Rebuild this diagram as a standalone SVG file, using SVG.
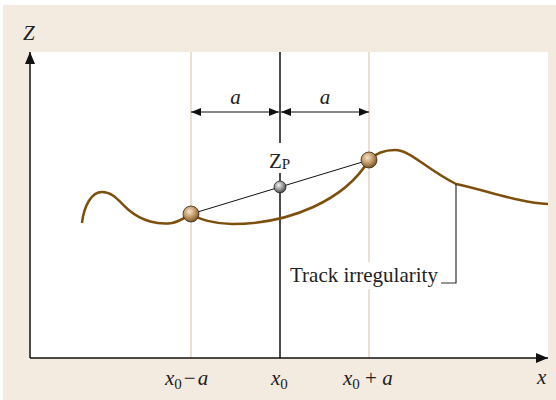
<svg xmlns="http://www.w3.org/2000/svg" width="556" height="400" viewBox="0 0 556 400">
<style>
.t{font-family:"Liberation Serif","Times New Roman",serif;font-size:21px;fill:#222}
.i{font-style:italic}
.s{font-size:15px}
.guide{stroke:#e6d6c4;stroke-width:1.5}
.ax{stroke:#111;stroke-width:1.5;fill:none}
</style>
<defs>
<radialGradient id="gb" cx="0.4" cy="0.35" r="0.7">
<stop offset="0" stop-color="#f3e4cc"/>
<stop offset="0.5" stop-color="#c49a66"/>
<stop offset="1" stop-color="#6e4a20"/>
</radialGradient>
<radialGradient id="gg" cx="0.4" cy="0.35" r="0.7">
<stop offset="0" stop-color="#f2f2f2"/>
<stop offset="0.5" stop-color="#9a9a9a"/>
<stop offset="1" stop-color="#3c3c3c"/>
</radialGradient>
<marker id="ah" viewBox="0 0 10 8" refX="10" refY="4" markerWidth="10" markerHeight="8" markerUnits="userSpaceOnUse" orient="auto-start-reverse">
<path d="M0,0 L10,4 L0,8 Z" fill="#111"/>
</marker>
<marker id="axh" viewBox="0 0 12 10" refX="12" refY="5" markerWidth="12" markerHeight="10" markerUnits="userSpaceOnUse" orient="auto">
<path d="M0,0 L12,5 L0,10 Z" fill="#111"/>
</marker>
</defs>
<rect x="3" y="5" width="553" height="395" fill="#f3ebdf"/>
<rect x="30" y="52" width="518" height="306" fill="#fff"/>

<g id="guides">
<line class="guide" x1="191" y1="52" x2="191" y2="358"/>
<line class="guide" x1="369" y1="52" x2="369" y2="262"/>
<line class="guide" x1="369" y1="289" x2="369" y2="358"/>
</g>

<g id="axes">
<line class="ax" x1="30" y1="358" x2="30" y2="52" marker-end="url(#axh)"/>
<line class="ax" x1="30" y1="358" x2="548" y2="358" marker-end="url(#axh)"/>
<text class="t i" x="23" y="40">Z</text>
<text class="t i" x="537" y="384">x</text>
</g>

<g id="center-line">
<line class="ax" x1="280" y1="52" x2="280" y2="143"/>
<line class="ax" x1="280" y1="173" x2="280" y2="358"/>
</g>

<g id="track">
<path d="M82,223 C84,205 92,192 102,192 C114,192 120,203 130,211 C142,221 158,225 172,223 C182,221 186,216 191,214 C198,219 215,224 232,224 C290,224 345,200 369,160 C377,152 385,150 395,150 C410,150 425,168 456,184 C485,190 520,203 548,204" fill="none" stroke="#7d4f0c" stroke-width="2.5"/>
</g>

<g id="connectors">
<line x1="191" y1="112" x2="279" y2="112" stroke="#111" stroke-width="1.2" marker-start="url(#ah)" marker-end="url(#ah)"/>
<line x1="281" y1="112" x2="369" y2="112" stroke="#111" stroke-width="1.2" marker-start="url(#ah)" marker-end="url(#ah)"/>
<line x1="191" y1="214" x2="369" y2="160" stroke="#111" stroke-width="1"/>
<polyline points="441,283 456,283 456,184" fill="none" stroke="#333" stroke-width="1.2"/>
</g>

<g id="ball-left"><circle cx="191" cy="214" r="8" fill="url(#gb)" stroke="#3a2a18" stroke-width="0.8"/></g>
<g id="ball-right"><circle cx="369" cy="160" r="8" fill="url(#gb)" stroke="#3a2a18" stroke-width="0.8"/></g>
<g id="ball-zp"><circle cx="280" cy="187" r="6" fill="url(#gg)" stroke="#222" stroke-width="0.8"/></g>

<g id="labels">
<text class="t i" x="235.5" y="104" text-anchor="middle">a</text>
<text class="t i" x="325" y="104" text-anchor="middle">a</text>
<text class="t" x="269" y="168">Z<tspan class="s" dy="1">P</tspan></text>
<text class="t" x="290" y="282">Track irregularity</text>
<text class="t" x="165" y="385"><tspan class="i">x</tspan><tspan class="s" dy="4">0</tspan><tspan dx="2" dy="-4">−</tspan><tspan class="i" dx="2">a</tspan></text>
<text class="t" x="271" y="385"><tspan class="i">x</tspan><tspan class="s" dy="4">0</tspan></text>
<text class="t" x="343" y="385"><tspan class="i">x</tspan><tspan class="s" dy="4">0</tspan><tspan dy="-4"> + </tspan><tspan class="i">a</tspan></text>
</g>
</svg>
